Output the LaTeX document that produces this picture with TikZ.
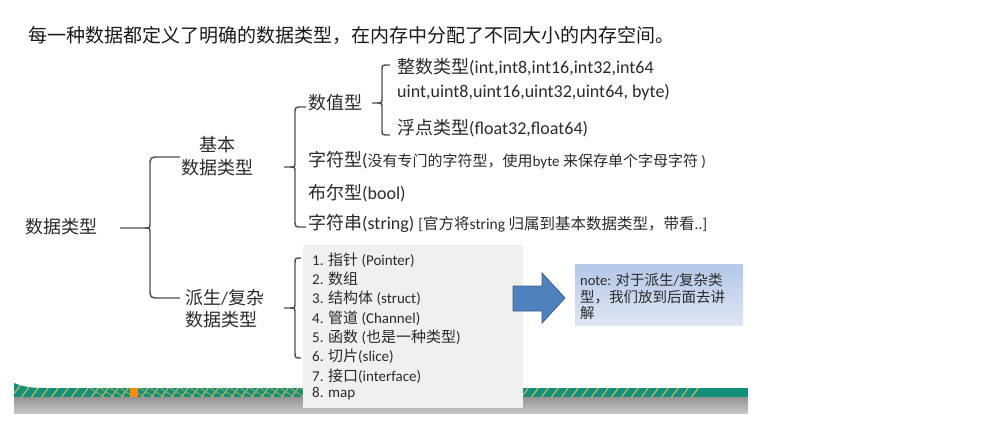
\documentclass[tikz,border=0pt]{standalone}
\usepackage{fontspec}
\setmainfont{Carlito}
\newfontfamily\cjk{Noto Sans CJK SC}
\newcommand\zh[1]{{\cjk #1}}
\newcommand\fs[1]{\fontsize{#1}{#1}\selectfont}
\definecolor{txt}{HTML}{2A2A2A}
\definecolor{bracecol}{HTML}{505050}
\definecolor{teal}{HTML}{12907A}
\definecolor{stripe}{HTML}{C8B560}
\definecolor{arrowfill}{HTML}{4F81BD}
\definecolor{arrowline}{HTML}{385D8A}
\definecolor{listbg}{HTML}{F0F0F0}
\tikzset{
  brace/.style={draw=bracecol, line width=1.4pt},
  lbl/.style={anchor=west, inner sep=0pt, text=txt},
  big/.style={lbl, font=\fs{18}},
  item/.style={lbl, font=\fs{15}},
}
\newcommand\drawbrace[7]{% xv ytop ymid ybot xend xtip r
  \draw[brace] (#5,#2) -- ({#1+#7},#2) .. controls (#1,#2) .. (#1,{#2+#7}) -- (#1,{#3-5}) .. controls (#1,#3) .. ({#1-5},#3) -- (#6,#3);
  \draw[brace] ({#1-5},#3) .. controls (#1,#3) .. (#1,{#3+5}) -- (#1,{#4-#7}) .. controls (#1,#4) .. ({#1+#7},#4) -- (#5,#4);}
\begin{document}
\begin{tikzpicture}[x=1pt,y=-1pt]
\useasboundingbox (0,0) rectangle (998,426);
% bottom band
\shade[top color=black!42, bottom color=black!22] (14,397) rectangle (748,413);
\fill[teal] (14,388) rectangle (748,397);
\fill[teal] (14,383) .. controls (24,387) and (32,388) .. (45,388) -- (45,397) -- (14,397) -- cycle;
\begin{scope}
  \clip (14,383) .. controls (24,387) and (32,388) .. (45,388) -- (700,388) -- (700,397) -- (14,397) -- cycle;
  \foreach \x in {0,10,...,700} {\draw[stripe, line width=1.1pt] (\x,399) -- ({\x+12},383);}
  \foreach \x in {90,100,...,310} {\draw[stripe!80!teal, line width=0.8pt] (\x,388) -- ({\x+14},397);}
\end{scope}
\fill[orange!90!yellow] (130,388) rectangle (138,397);
% title
\node[lbl, font=\fs{19}, text=black!90] (title) at (28,35) {\zh{每一种数据都定义了明确的数据类型，在内存中分配了不同大小的内存空间。}};
% root
\node[big] (root) at (25,227) {\zh{数据类型}};
\drawbrace{150}{157}{228}{298}{180}{120}{10}
\node[big] (basic1) at (199,145) {\zh{基本}};
\node[big] (basic2) at (181,168) {\zh{数据类型}};
\node[big] (der1) at (185,298) {\zh{派生}/\zh{复杂}};
\node[big] (der2) at (185,320) {\zh{数据类型}};
% basic brace
\drawbrace{295}{107}{167}{227}{306}{284}{7}
\node[big] (num) at (308,103) {\zh{数值型}};
\drawbrace{382}{65}{103}{135}{390}{372}{6}
\node[big] (int1) at (397,67) {\zh{整数类型}(int,int8,int16,int32,int64};
\node[big] (int2) at (397,92) {uint,uint8,uint16,uint32,uint64, byte)};
\node[big] (flt) at (397,128) {\zh{浮点类型}(float32,float64)};
\node[big] (chr) at (308,160) {\zh{字符型}(\fs{15}\zh{没有专门的字符型，使用}byte \zh{来保存单个字母字符} )};
\node[big] (bool) at (308,193) {\zh{布尔型}(bool)};
\node[big] (str) at (308,223) {\zh{字符串}(string) \fs{15.5}[\zh{官方将}string \zh{归属到基本数据类型，带看}..]};
% derived list
\fill[listbg] (303,245) rectangle (523,408);
\drawbrace{295}{258}{308}{358}{301}{284}{6}
\node[item] (l1) at (312,260) {1. \zh{指针} (Pointer)};
\node[item] (l2) at (312,279) {2. \zh{数组}};
\node[item] (l3) at (312,298) {3. \zh{结构体} (struct)};
\node[item] (l4) at (312,318) {4. \zh{管道} (Channel)};
\node[item] (l5) at (312,337) {5. \zh{函数} (\zh{也是一种类型})};
\node[item] (l6) at (312,356) {6. \zh{切片}(slice)};
\node[item] (l7) at (312,376) {7. \zh{接口}(interface)};
\node[item] (l8) at (312,394) {8. map};
% arrow
\filldraw[fill=arrowfill, draw=arrowline, line width=0.8pt] (513,286) -- (542,286) -- (542,273) -- (565,298) -- (542,323) -- (542,311) -- (513,311) -- cycle;
% note
\shade[top color={rgb,255:red,180;green,199;blue,232}, bottom color={rgb,255:red,222;green,230;blue,244}] (575,264) rectangle (743,325);
\node[lbl, font=\fs{14.5}] (n1) at (580,280) {note: \zh{对于派生}/\zh{复杂类}};
\node[lbl, font=\fs{14.5}] (n2) at (580,297) {\zh{型，我们放到后面去讲}};
\node[lbl, font=\fs{14.5}] (n3) at (580,313) {\zh{解}};
\end{tikzpicture}
\end{document}
